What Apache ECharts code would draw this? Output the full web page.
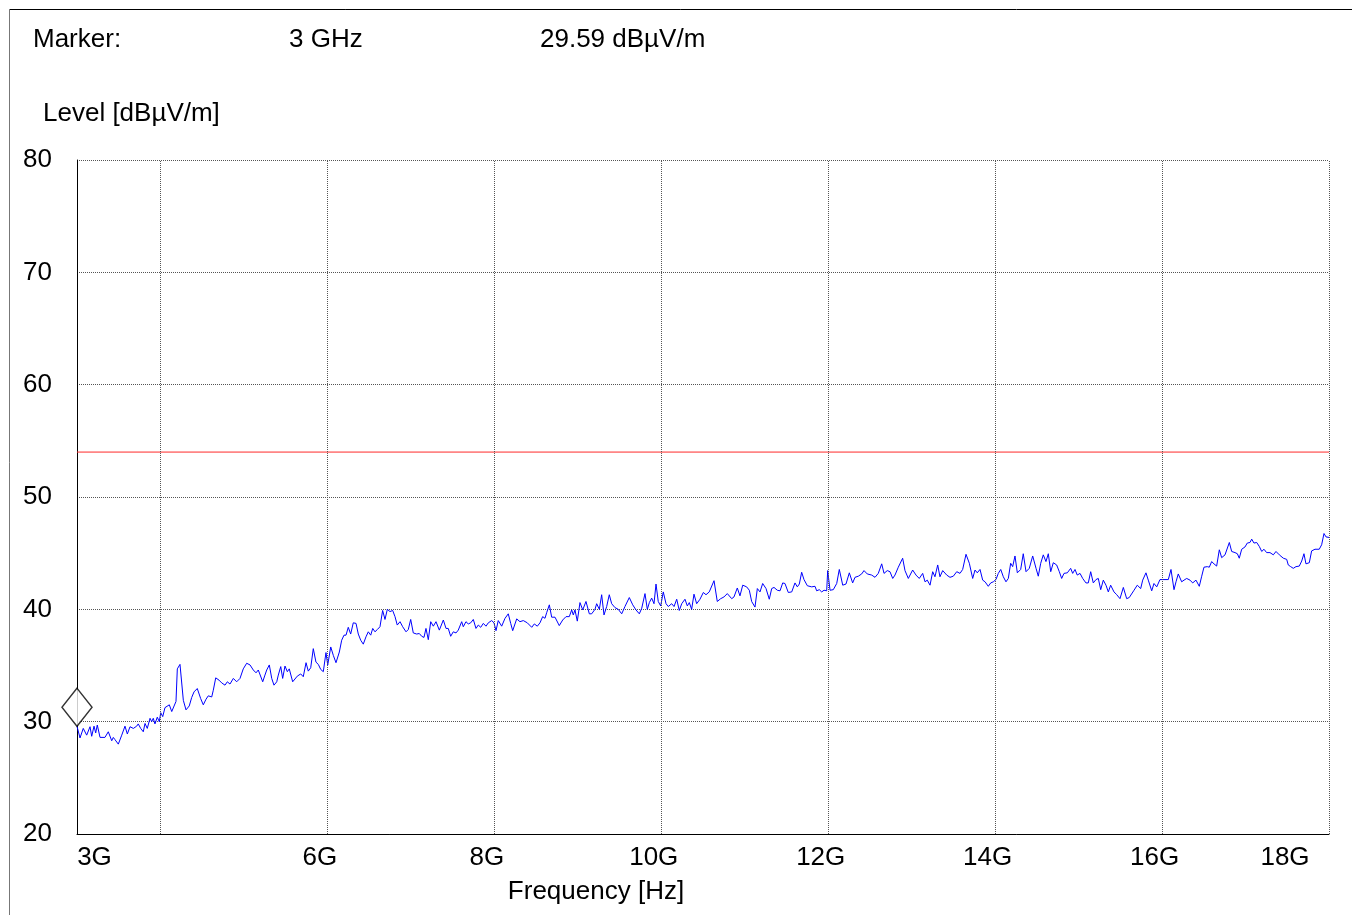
<!DOCTYPE html>
<html><head><meta charset="utf-8">
<script src="https://cdn.jsdelivr.net/npm/echarts@6/dist/echarts.min.js"></script>
<style>html,body{margin:0;padding:0;background:#fff}#c{width:1352px;height:915px}</style>
</head><body><div id="c"></div>
<script>
// ---- data (frequency in GHz, level in dBµV/m) ----
const freqGHz = [
3.000,3.036,3.075,3.116,3.156,3.176,3.204,3.224,3.243,3.276,3.335,3.375,3.416,3.435,3.455,3.495,3.536,3.575,3.603,3.635,
3.675,3.715,3.734,3.763,3.794,3.815,3.842,3.875,3.895,3.914,3.934,3.962,3.986,4.003,4.027,4.054,4.075,4.106,4.135,4.154,
4.186,4.202,4.234,4.274,4.306,4.345,4.374,4.402,4.441,4.482,4.513,4.546,4.573,4.614,4.633,4.662,4.701,4.734,4.773,4.801,
4.833,4.873,4.913,4.953,4.992,5.033,5.073,5.112,5.145,5.172,5.193,5.225,5.252,5.273,5.304,5.333,5.360,5.393,5.412,5.441,
5.464,5.492,5.520,5.543,
5.584,5.639,5.680,5.711,5.744,5.771,5.800,5.831,5.863,5.891,5.920,5.951,5.983,6.004,6.040,6.071,6.103,6.143,6.171,6.199,
6.223,6.250,6.279,6.310,6.343,6.370,6.399,6.430,6.462,6.490,6.519,6.543,6.570,6.598,6.630,6.662,6.690,6.718,6.750,6.782,
6.810,6.837,6.870,6.902,6.942,6.969,6.998,7.029,7.070,7.101,7.130,7.157,7.181,7.209,7.238,7.269,7.301,7.341,7.389,7.421,
7.448,7.477,7.508,7.541,7.568,7.609,7.628,7.660,7.688,7.717,7.748,7.780,7.808,7.837,7.868,7.900,7.928,7.968,7.996,8.020,
8.047,
8.088,8.128,8.167,8.196,8.220,8.236,8.268,8.307,8.347,8.395,8.448,8.479,8.515,8.547,8.579,8.607,8.627,8.659,8.687,8.727,
8.747,8.778,8.819,8.859,8.898,8.927,8.946,8.966,8.994,9.026,9.059,9.098,9.138,9.166,9.206,9.226,9.258,9.286,9.314,9.346,
9.377,9.406,9.446,9.485,9.526,9.565,9.617,9.658,9.697,9.737,9.766,9.805,9.833,9.857,9.885,9.913,9.937,9.964,9.993,10.024,
10.057,10.084,10.125,10.153,10.185,10.216,10.245,10.284,10.312,10.336,10.364,10.392,10.424,10.464,10.504,10.536,10.575,
10.632,10.671,10.712,10.751,10.791,10.844,10.871,10.911,10.943,10.976,11.023,11.055,11.083,11.123,11.151,11.183,11.215,11.255,11.294,11.323,
11.351,11.390,11.423,11.455,11.482,11.522,11.563,11.602,11.630,11.654,11.682,11.710,11.750,11.802,11.842,11.862,11.893,11.922,11.950,11.982,
11.994,12.022,12.061,12.102,12.133,12.174,12.213,12.253,12.293,12.321,12.361,12.401,12.429,12.468,12.521,12.561,12.600,12.641,12.669,12.708,
12.740,12.773,12.800,12.840,12.860,12.892,12.920,12.960,13.012,13.052,13.091,
13.132,13.160,13.187,13.220,13.252,13.279,13.312,13.339,13.372,13.420,13.459,13.499,13.540,13.579,13.611,13.651,13.691,13.731,13.759,13.786,
13.819,13.851,13.879,13.918,13.947,13.978,14.010,14.038,14.067,14.098,14.130,14.158,14.186,14.210,14.238,14.266,14.306,14.337,14.370,14.409,
14.450,14.490,14.517,14.546,14.577,14.609,14.637,14.666,14.697,14.737,14.769,14.797,14.825,14.865,14.905,14.929,14.957,14.984,15.017,15.049,
15.088,15.116,15.145,15.176,15.208,15.236,15.265,15.296,15.328,15.356,15.384,15.424,15.457,15.496,15.536,
15.576,15.607,15.664,15.703,15.744,15.768,15.807,15.835,15.876,15.903,15.936,15.975,16.007,16.075,16.107,16.143,16.167,16.194,16.235,16.263,
16.295,16.335,16.367,16.406,16.446,16.475,16.502,16.542,16.566,16.594,16.622,16.654,16.686,16.714,16.754,16.774,16.806,16.834,16.874,16.902,
16.925,16.954,16.993,17.021,17.053,17.074,17.101,17.134,17.165,17.194,17.221,17.253,17.293,17.333,17.365,17.405,17.453,17.493,17.512,17.541,
17.572,17.604,17.644,17.673,17.700,17.724,17.764,17.792,17.832,17.883,17.912,17.940,17.964,18.000
];
const levelDb = [
29.59,28.55,29.4,28.8,29.55,28.7,29.6,29.0,29.7,28.6,28.6,29.1,28.3,28.6,28.4,28.0,28.8,29.6,28.9,29.55,
29.4,29.6,29.8,29.4,29.1,29.84,29.4,30.3,30.0,30.3,29.8,30.4,30.0,30.8,30.45,31.25,31.1,31.5,30.9,31.05,
31.8,34.7,35.1,31.9,31.05,31.4,32.15,32.65,32.95,32.05,31.5,32.0,32.3,32.2,32.8,33.9,33.7,33.45,33.25,33.55,
33.35,33.85,33.55,33.85,34.7,35.2,35.05,34.6,34.35,34.6,34.5,33.55,34.15,34.6,35.05,33.85,33.25,33.55,34.15,34.9,
33.85,34.95,34.45,34.7,
33.55,34.05,34.25,34.0,35.25,34.5,34.8,36.5,35.3,35.1,34.65,34.45,36.15,35.05,36.65,35.9,35.25,36.2,37.25,37.7,
37.7,38.4,37.8,38.8,38.75,37.8,37.25,36.9,37.55,38.0,37.7,38.3,38.0,38.2,38.45,39.9,39.1,40.0,39.8,39.9,
39.35,38.6,38.9,38.45,38.0,38.2,39.1,37.9,37.8,37.85,37.6,37.5,38.3,37.3,38.9,38.5,38.9,38.15,39.05,38.3,
38.3,37.6,38.0,37.9,38.15,38.9,38.45,38.9,38.7,38.8,39.1,38.3,38.6,38.4,38.75,38.5,38.8,39.0,38.8,38.1,
39.0,
38.5,39.2,39.6,38.75,38.1,38.1,39.15,38.9,39.0,38.8,38.4,38.7,38.5,38.8,39.35,39.2,39.7,40.4,39.3,39.3,
39.2,38.55,39.05,39.35,39.35,39.95,39.5,39.95,38.95,40.6,39.95,40.7,39.6,39.6,40.0,40.5,40.0,41.3,39.5,40.25,
41.3,40.5,40.15,40.0,39.6,40.25,41.05,40.4,39.95,39.6,40.1,41.4,40.0,40.6,41.0,40.5,42.25,40.7,40.3,41.55,
40.5,40.25,40.5,40.25,40.9,39.9,40.5,40.9,40.3,40.6,40.0,41.35,40.5,40.9,41.5,41.3,41.55,
42.55,40.7,40.95,41.1,41.4,40.95,41.1,41.9,41.2,42.15,42.0,41.7,40.7,40.2,41.85,41.55,42.3,41.85,40.9,41.85,
41.95,41.7,41.65,42.35,42.3,41.5,41.55,42.35,42.0,42.25,43.3,42.65,42.1,42.0,42.05,41.65,41.75,41.55,41.7,41.65,
43.45,41.7,41.75,42.3,43.55,42.15,42.25,43.25,42.35,42.85,42.95,43.15,43.45,43.15,43.05,42.85,43.2,44.05,43.2,43.45,
43.35,42.75,43.05,43.75,43.65,44.55,43.45,42.75,43.5,43.05,42.75,
43.2,42.45,42.6,42.15,43.35,42.9,43.95,42.9,43.45,43.05,42.85,42.95,43.35,43.2,43.55,44.9,44.1,42.75,43.5,43.25,
43.55,42.6,42.45,42.05,42.35,42.45,42.65,43.2,43.55,42.9,42.45,42.75,44.1,43.8,44.75,43.25,43.55,44.95,43.35,43.65,
44.75,43.65,42.95,44.1,44.85,44.25,44.95,43.35,44.15,43.95,43.35,42.75,43.2,43.25,43.65,43.2,43.55,43.05,43.2,42.75,
42.35,42.35,43.35,42.35,42.65,42.75,41.75,42.6,42.15,41.55,42.15,41.55,41.3,40.95,41.95,
40.95,41.05,41.7,42.15,41.85,42.6,43.25,42.6,41.65,42.3,42.0,42.65,42.65,42.65,43.55,41.75,42.45,43.15,42.45,42.6,
42.75,42.6,42.35,42.6,42.05,42.95,43.75,43.8,43.75,44.25,44.05,43.85,45.3,44.6,44.85,44.95,45.95,45.15,45.05,44.95,
44.55,45.35,45.55,45.9,45.95,46.25,45.9,45.95,45.6,45.15,45.35,45.05,45.05,44.85,45.15,44.85,44.55,44.45,43.95,43.8,
43.65,43.8,43.85,44.3,44.95,44.05,44.15,45.2,45.35,45.35,45.75,46.75,46.45,46.4
];
const limitFreq = [3, 18];
const limitLevel = [54, 54];
const markerFreq = 3;
const markerLevel = 29.59;
const xTickValues = [3, 6, 8, 10, 12, 14, 16, 18];
const xTickLabels = ['3G', '6G', '8G', '10G', '12G', '14G', '16G', '18G'];
const xGridValues = [4, 6, 8, 10, 12, 14, 16, 18];
const yMin = 20, yMax = 80, yStep = 10;
const headerTexts = ['Marker:', '3 GHz', '29.59 dBµV/m'];
const yAxisTitle = 'Level [dBµV/m]';
const xAxisTitle = 'Frequency [Hz]';

// ---- chart ----
const FONT = "'Liberation Sans', Arial, sans-serif";
const FS = 26;
const trace = freqGHz.map((f, i) => [f, levelDb[i]]);
const limit = limitFreq.map((f, i) => [f, limitLevel[i]]);

const labelStyleKey = {3: 'a', 18: 'z'};
const rich = {
  a: {fontSize: FS, fontFamily: FONT, color: '#000', padding: [0, 0, 0, 35]},
  m: {fontSize: FS, fontFamily: FONT, color: '#000', padding: [0, 15, 0, 0]},
  z: {fontSize: FS, fontFamily: FONT, color: '#000', padding: [0, 88, 0, 0]}
};

const chart = echarts.init(document.getElementById('c'), null, {renderer: 'canvas'});
chart.setOption({
  animation: false,
  backgroundColor: '#fff',
  grid: {left: 77, right: 23, top: 160, bottom: 81},
  xAxis: {
    type: 'value', min: 3, max: 18, interval: 1,
    axisLine: {show: true, onZero: false, lineStyle: {color: '#000', width: 1}},
    axisTick: {show: false},
    splitLine: {show: false},
    axisLabel: {
      margin: 11, fontSize: FS, fontFamily: FONT, color: '#000',
      formatter: function (v) {
        const i = xTickValues.indexOf(v);
        if (i < 0) return '';
        const k = labelStyleKey[v] || 'm';
        return '{' + k + '|' + xTickLabels[i] + '}';
      },
      rich: rich
    }
  },
  yAxis: {
    type: 'value', min: yMin, max: yMax, interval: yStep,
    axisLine: {show: true, lineStyle: {color: '#000', width: 1}},
    axisTick: {show: false},
    splitLine: {show: true, lineStyle: {color: '#555', type: 'dotted', width: 1}},
    axisLabel: {margin: 25, fontSize: FS, fontFamily: FONT, color: '#000', padding: [4, 0, 0, 0]}
  },
  graphic: [
    {type: 'line', shape: {x1: 9.5, y1: 9.5, x2: 1352, y2: 9.5}, style: {stroke: '#000', lineWidth: 1}},
    {type: 'line', shape: {x1: 9.5, y1: 9.5, x2: 9.5, y2: 915}, style: {stroke: '#777', lineWidth: 1}},
    {type: 'text', x: 33, y: 40, style: {text: headerTexts[0], fontSize: FS, fontFamily: FONT, fill: '#000', align: 'left', verticalAlign: 'middle'}},
    {type: 'text', x: 289, y: 40, style: {text: headerTexts[1], fontSize: FS, fontFamily: FONT, fill: '#000', align: 'left', verticalAlign: 'middle'}},
    {type: 'text', x: 540, y: 40, style: {text: headerTexts[2], fontSize: FS, fontFamily: FONT, fill: '#000', align: 'left', verticalAlign: 'middle'}},
    {type: 'text', x: 43, y: 114, style: {text: yAxisTitle, fontSize: FS, fontFamily: FONT, fill: '#000', align: 'left', verticalAlign: 'middle'}},
    {type: 'text', x: 596, y: 892, style: {text: xAxisTitle, fontSize: FS, fontFamily: FONT, fill: '#000', align: 'center', verticalAlign: 'middle'}}
  ],
  series: [
    {
      name: 'Limit', type: 'line', data: limit, showSymbol: false, z: 2,
      lineStyle: {color: '#ff2a2a', width: 1}, silent: true,
      markLine: {
        silent: true, symbol: ['none', 'none'], label: {show: false},
        lineStyle: {color: '#555', type: 'dotted', width: 1},
        data: xGridValues.map(v => ({xAxis: v}))
      }
    },
    {
      name: 'Level', type: 'line', data: trace, showSymbol: false, z: 3,
      lineStyle: {color: '#0000ff', width: 1}
    },
    {
      name: 'Marker', type: 'scatter', data: [[markerFreq, markerLevel]], z: 10, clip: false,
      symbol: 'diamond', symbolSize: [30, 38], symbolOffset: [0, -19],
      itemStyle: {color: '#fff', borderColor: '#000', borderWidth: 1.5}
    }
  ]
});
</script>
</body></html>
